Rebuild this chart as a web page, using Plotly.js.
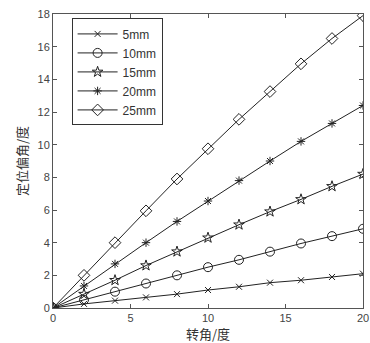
<!DOCTYPE html>
<html><head><meta charset="utf-8">
<script src="https://cdn.plot.ly/plotly-3.0.1.min.js"></script>
<style>body{margin:0;background:#fff}#c{width:370px;height:343px}</style>
</head><body><div id="c"></div>
<script>
const xVals = [0, 2, 4, 6, 8, 10, 12, 14, 16, 18, 20];
const s5mm  = [0, 0.25, 0.45, 0.65, 0.85, 1.1, 1.3, 1.55, 1.7, 1.9, 2.1];
const s10mm = [0, 0.5, 1.0, 1.5, 2.0, 2.5, 2.95, 3.45, 3.95, 4.4, 4.85];
const s15mm = [0, 0.85, 1.7, 2.6, 3.45, 4.3, 5.1, 5.9, 6.65, 7.45, 8.2];
const s20mm = [0, 1.35, 2.7, 4.0, 5.3, 6.55, 7.8, 9.0, 10.2, 11.3, 12.4];
const s25mm = [0, 2.0, 4.0, 5.95, 7.9, 9.75, 11.55, 13.25, 14.95, 16.5, 17.9];
const names = ['5mm', '10mm', '15mm', '20mm', '25mm'];
const series = [s5mm, s10mm, s15mm, s20mm, s25mm];
const symbols = ['x-thin-open', 'circle-open', 'star-open', 'asterisk-open', 'diamond-open'];
const sizes = [6, 9, 8, 7, 9];
const traces = series.map((y, i) => ({
  x: xVals, y: y, name: names[i], type: 'scatter', mode: 'lines+markers',
  line: {color: '#222', width: 1},
  marker: {symbol: symbols[i], size: sizes[i], color: '#222', line: {color: '#222', width: 1}}
}));
const axisCommon = {
  showgrid: false, zeroline: false, showline: true, mirror: 'ticks',
  linecolor: '#555', linewidth: 1, ticks: 'inside', ticklen: 4, tickcolor: '#555',
  tickfont: {family: 'Liberation Sans, Arial', size: 11, color: '#444'}
};
const layout = {
  width: 370, height: 343,
  margin: {l: 53, r: 7, t: 14, b: 35},
  paper_bgcolor: '#fff', plot_bgcolor: '#fff',
  showlegend: true,
  legend: {x: 0.06, y: 0.985, xanchor: 'left', yanchor: 'top',
    bordercolor: '#333', borderwidth: 1, bgcolor: '#fff',
    font: {family: 'Liberation Sans, Arial', size: 12, color: '#333'},
    itemwidth: 40, tracegroupgap: 0},
  xaxis: Object.assign({}, axisCommon, {range: [0, 20], tickvals: [0, 5, 10, 15, 20],
    title: {text: '转角/度', font: {family: 'Noto Sans CJK SC', size: 13, color: '#333'}, standoff: 4}}),
  yaxis: Object.assign({}, axisCommon, {range: [0, 18], tickvals: [0, 2, 4, 6, 8, 10, 12, 14, 16, 18],
    title: {text: '定位偏角/度', font: {family: 'Noto Sans CJK SC', size: 13, color: '#333'}, standoff: 6}})
};
Plotly.newPlot('c', traces, layout, {displayModeBar: false, staticPlot: true});
</script></body></html>
